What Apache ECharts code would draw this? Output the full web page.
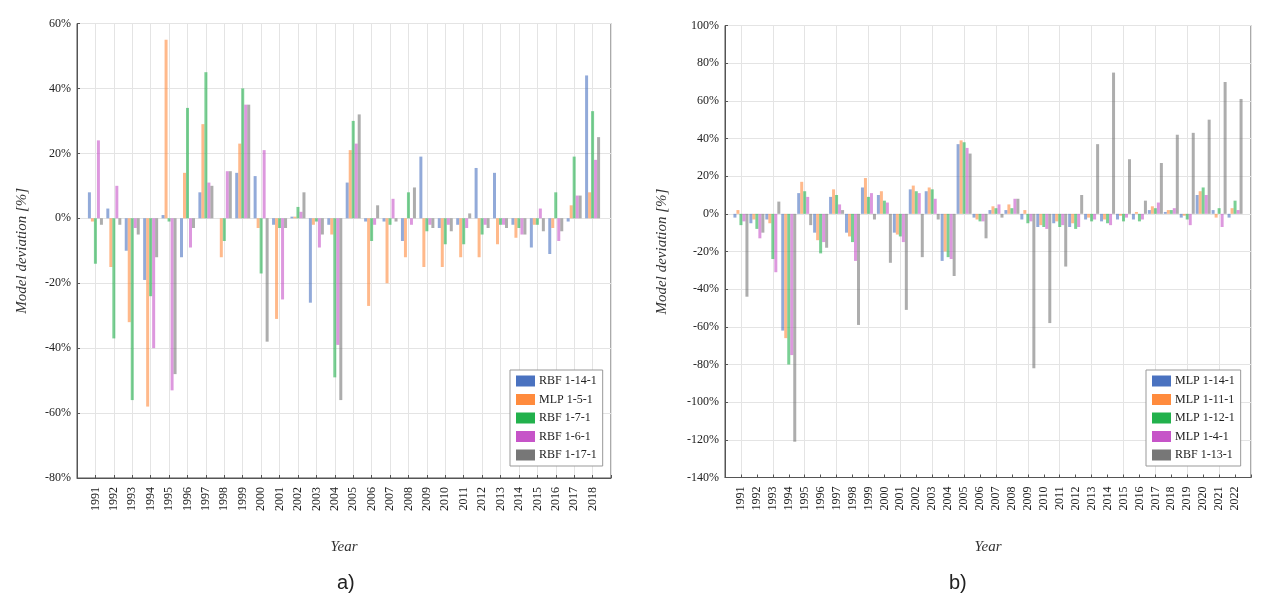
<!DOCTYPE html>
<html>
<head>
<meta charset="utf-8">
<script src="https://cdn.jsdelivr.net/npm/echarts@6/dist/echarts.min.js"></script>
<style>
html,body{margin:0;padding:0;background:#fff;}
#c{width:1261px;height:603px;}
</style>
</head>
<body>
<div id="c"></div>
<script>
// ---------- Panel a) data ----------
var yearsA = [1991,1992,1993,1994,1995,1996,1997,1998,1999,2000,2001,2002,2003,2004,2005,2006,2007,2008,2009,2010,2011,2012,2013,2014,2015,2016,2017,2018];
var namesA = ['RBF 1-14-1','MLP 1-5-1','RBF 1-7-1','RBF 1-6-1','RBF 1-17-1'];
var a_rbf_14 = [8, 3,-10,-19, 1,-12, 8, 0,14,13, -2, 0.5,-26, -2,11, -1, -1, -7,19, -3, -2,15.5,14, -2, -9,-11, -1,44];
var a_mlp_5  = [-1,-15,-32,-58,55,14,29,-12,23,-3,-31, 0.5, -2, -5,21,-27,-20,-12,-15,-15,-12,-12,-8, -6, -2, -3, 4, 8];
var a_rbf_7  = [-14,-37,-56,-24,-1,34,45, -7,40,-17, -3, 3.5, -1,-49,30, -7, -2, 8, -4, -8, -8, -5,-2, -3, -2, 8,19,33];
var a_rbf_6  = [24,10, -3,-40,-53,-9,11,14.5,35,21,-25, 2, -9,-39,23, -2, 6, -2, -2, -2, -3, -2,-2, -5, 3, -7, 7,18];
var a_rbf_17 = [-2,-2, -5,-12,-48,-3,10,14.5,35,-38,-3, 8, -5,-56,32, 4, -1,9.5, -3, -4,1.5, -3,-3, -5, -4, -4, 7,25];
var seriesA = [a_rbf_14, a_mlp_5, a_rbf_7, a_rbf_6, a_rbf_17];

// ---------- Panel b) data ----------
var yearsB = [1991,1992,1993,1994,1995,1996,1997,1998,1999,2000,2001,2002,2003,2004,2005,2006,2007,2008,2009,2010,2011,2012,2013,2014,2015,2016,2017,2018,2019,2020,2021,2022];
var namesB = ['MLP 1-14-1','MLP 1-11-1','MLP 1-12-1','MLP 1-4-1','RBF 1-13-1'];
var b_mlp_14 = [-2, -5, -3, -62,11,-10, 9,-10,14,10,-10,13,12,-25,37, -2,2,2, -3, -7, -5, -7,-3, -4,-3,-3, 2, 1, -2,10, 2,-2];
var b_mlp_11 = [ 2, -3, -5, -66,17,-14,13,-12,19,12,-11,15,14,-20,39, -3,4,5,  2, -6, -4, -5,-2, -3,-1, 1, 4, 2, -1,12,-2, 3];
var b_mlp_12 = [-6, -8,-24, -80,12,-21,10,-15, 9, 7,-12,12,13,-23,38, -4,3,3, -5, -7, -7, -8,-4, -5,-4,-4, 3, 2, -3,14, 3, 7];
var b_mlp_4  = [-4,-13,-31, -75, 9,-15, 5,-25,11, 6,-15,11, 8,-24,35, -4,5,8, -4, -8, -6, -7,-3, -6,-2,-3, 6, 3, -6,10,-7, 2];
var b_rbf_13 = [-44,-10,6.5,-121,-6,-18, 2,-59,-3,-26,-51,-23,-3,-33,32,-13,-2,8,-82,-58,-28,10,37,75,29, 7,27,42,43,50,70,61];
var seriesB = [b_mlp_14, b_mlp_11, b_mlp_12, b_mlp_4, b_rbf_13];

var colors = ['#4a72c0','#ff8b3d','#22b14c','#c654c8','#777777'];

// ---------- chart ----------
var serif = '"Liberation Serif","DejaVu Serif",serif';
var chart = echarts.init(document.getElementById('c'), null, {renderer:'canvas'});

function mkSeries(names, years, arrs, axisIdx) {
  return arrs.map(function(arr, i){
    return {
      name: names[i], type:'bar', xAxisIndex: axisIdx, yAxisIndex: axisIdx,
      data: years.map(function(y, k){ return [y, arr[k]]; }),
      barWidth: 3, barGap: '0%',
      itemStyle: {color: colors[i], opacity: 0.6},
      emphasis: {disabled: true},
      animation: false
    };
  });
}

var axisLineStyle = {color:'#555', width:1};

function xAx(idx, min, max, split) {
  return {
    type:'value', gridIndex: idx, min:min, max:max, interval:1,
    axisLine:{show:true, onZero:false, lineStyle:axisLineStyle},
    axisTick:{show:true, inside:true, length:3, lineStyle:{color:'#555'}},
    axisLabel:{rotate:90, margin:9, fontFamily:serif, fontSize:12, color:'#222',
      formatter:function(v){ return (v>min && v<max) ? String(v) : ''; }},
    splitLine:{show:true, lineStyle:{color: split, width:1}},
    name:'Year', nameLocation:'middle', nameGap:62,
    nameTextStyle:{fontFamily:serif, fontStyle:'italic', fontSize:15, color:'#333'}
  };
}
function yAx(idx, min, max) {
  return {
    type:'value', gridIndex: idx, min:min, max:max, interval:20,
    axisLine:{show:true, lineStyle:axisLineStyle},
    axisTick:{show:true, inside:true, length:3, lineStyle:{color:'#555'}},
    axisLabel:{margin:6, fontFamily:serif, fontSize:12, color:'#222', formatter:'{value}%'},
    splitLine:{show:true, lineStyle:{color:'#e4e4e4', width:1}},
    name:'Model deviation [%]', nameLocation:'middle', nameGap: idx===0 ? 47 : 55, nameRotate:90,
    nameTextStyle:{fontFamily:serif, fontStyle:'italic', fontSize:15, color:'#333'}
  };
}

function legend(names, left) {
  return {
    data: names, orient:'vertical', left:left, top:370,
    itemWidth:19, itemHeight:11, itemGap:6.5,
    padding:[5,6,5,6], backgroundColor:'#fff', borderColor:'#999', borderWidth:1,
    borderRadius:0,
    icon:'rect',
    itemStyle:{opacity:1},
    textStyle:{fontFamily:serif, fontSize:12, color:'#222', padding:[0,0,0,-1]},
    selectedMode:false
  };
}

var option = {
  backgroundColor:'#fff',
  animation:false,
  color: colors,
  title:[
    {text:'a)', left:332, top:568, textStyle:{fontFamily:'"Liberation Sans",Arial,sans-serif', fontSize:20, fontWeight:'normal', color:'#222'}},
    {text:'b)', left:944, top:568, textStyle:{fontFamily:'"Liberation Sans",Arial,sans-serif', fontSize:20, fontWeight:'normal', color:'#222'}}
  ],
  grid:[
    {left:77, top:23.5, width:534, height:454.5, show:true, borderColor:'#555', borderWidth:1, backgroundColor:'transparent'},
    {left:725, top:25.5, width:526, height:452, show:true, borderColor:'#555', borderWidth:1, backgroundColor:'transparent'}
  ],
  xAxis:[ xAx(0, 1990, 2019, '#e4e4e4'), xAx(1, 1990, 2023, ['rgba(0,0,0,0)','#e4e4e4']) ],
  yAxis:[ yAx(0, -80, 60), yAx(1, -140, 100) ],
  legend:[ legend(namesA, 510), legend(namesB, 1146) ],
  series: mkSeries(namesA, yearsA, seriesA, 0).concat(mkSeries(namesB, yearsB, seriesB, 1))
};
chart.setOption(option);
</script>
</body>
</html>
